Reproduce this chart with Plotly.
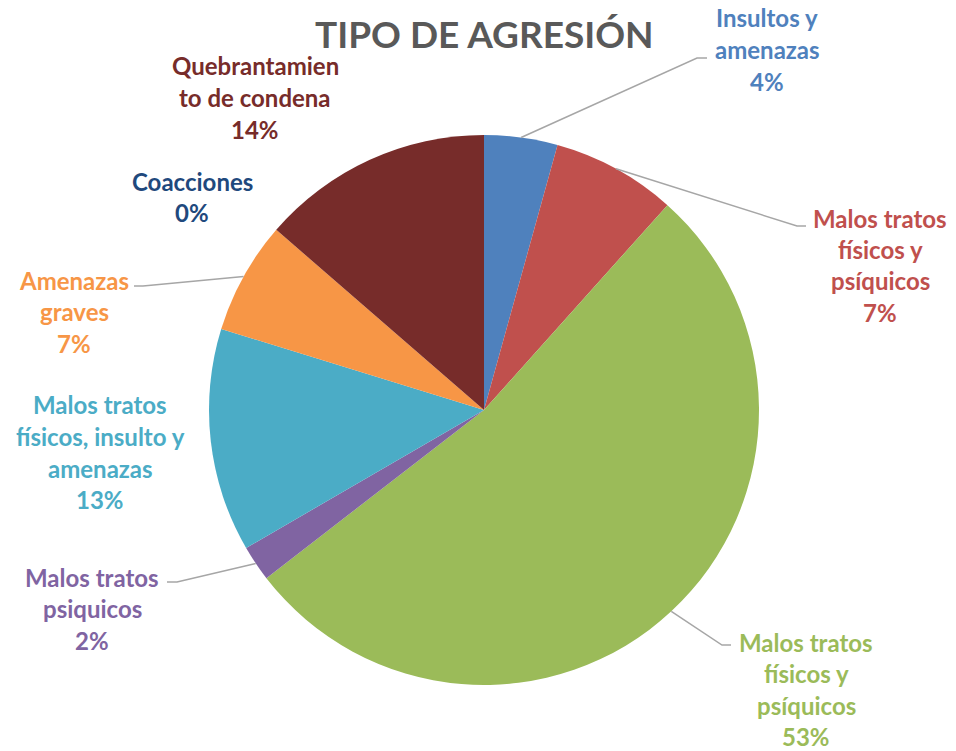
import math
import plotly.graph_objects as go

# ---- data ----
categories = ["Insultos y amenazas", "Malos tratos físicos y psíquicos (leve)",
              "Malos tratos físicos y psíquicos", "Malos tratos psiquicos",
              "Malos tratos físicos, insulto y amenazas", "Amenazas graves",
              "Coacciones", "Quebrantamiento de condena"]
values = [4.3, 7.3, 52.8, 2.1, 13.1, 6.6, 0.0, 13.6]
label_lines = [["Insultos y", "amenazas"],
               ["Malos tratos", "físicos y", "psíquicos"],
               ["Malos tratos", "físicos y", "psíquicos"],
               ["Malos tratos", "psiquicos"],
               ["Malos tratos", "físicos, insulto y", "amenazas"],
               ["Amenazas", "graves"],
               ["Coacciones"],
               ["Quebrantamien", "to de condena"]]
colors = ["#4F81BD", "#C0504D", "#9BBB59", "#8064A2", "#4BACC6", "#F79646", "#1F497D", "#772C2A"]
title_text = "TIPO DE AGRESIÓN"

# ---- layout positions (pixels in the page; body margin removed) ----
W, H = 956, 751
CX, CY, R = 484, 410, 275
label_pos = [(767, 18), (880, 218), (806, 642), (92, 577), (100, 405), (74, 280), (192, 181), (255, 66)]
leader_pos = [((697, 58), (707, 58)), ((797, 226), (806, 226)), ((722, 645), (731, 645)),
              ((177, 582), (167, 582)), None, ((143, 286), (134, 286)), None, None]
LINE_STEP = 31.5
FONT = "Lato, 'Open Sans', sans-serif"
FS = 24


def px(x):
    return x / W


def py(y):
    return 1 - y / H


fig = go.Figure(go.Pie(
    labels=categories, values=values, sort=False, direction="clockwise", rotation=0,
    marker=dict(colors=colors, line=dict(width=0)), textinfo="none", hoverinfo="label+percent",
    showlegend=False,
    domain=dict(x=[px(CX - R), px(CX + R)], y=[py(CY + R), py(CY - R)]),
))

total = sum(values)
annotations = []
shapes = []
cum = 0.0
for i, v in enumerate(values):
    pct = int(v / total * 100 + 0.5)
    lines = label_lines[i] + [f"{pct}%"]
    lx, ly = label_pos[i]
    for k, t in enumerate(lines):
        annotations.append(dict(x=px(lx), y=py(ly + k * LINE_STEP), xref="paper", yref="paper",
                                text=f"<b>{t}</b>", showarrow=False, xanchor="center", yanchor="middle",
                                borderpad=0,
                                font=dict(family=FONT, size=FS, color=colors[i])))
    mid = (cum + v / 2) / total * 2 * math.pi
    cum += v
    if leader_pos[i] is not None:
        sx = CX + R * math.sin(mid)
        sy = CY - R * math.cos(mid)
        (ex, ey), (fx, fy) = leader_pos[i]
        path = f"M {px(sx)} {py(sy)} L {px(ex)} {py(ey)} L {px(fx)} {py(fy)}"
        shapes.append(dict(type="path", path=path, xref="paper", yref="paper",
                           line=dict(color="#A6A6A6", width=1.5)))

annotations.append(dict(x=px(484), y=py(33), xref="paper", yref="paper", text=f"<b>{title_text}</b>",
                        showarrow=False, xanchor="center", yanchor="middle",
                        font=dict(family=FONT, size=37, color="#595959")))

fig.update_layout(width=W, height=H, margin=dict(l=0, r=0, t=0, b=0),
                  paper_bgcolor="white", plot_bgcolor="white",
                  annotations=annotations, shapes=shapes)

fig.write_html("out.html", config={"displayModeBar": False},
               post_script="document.body.style.margin='0';")
